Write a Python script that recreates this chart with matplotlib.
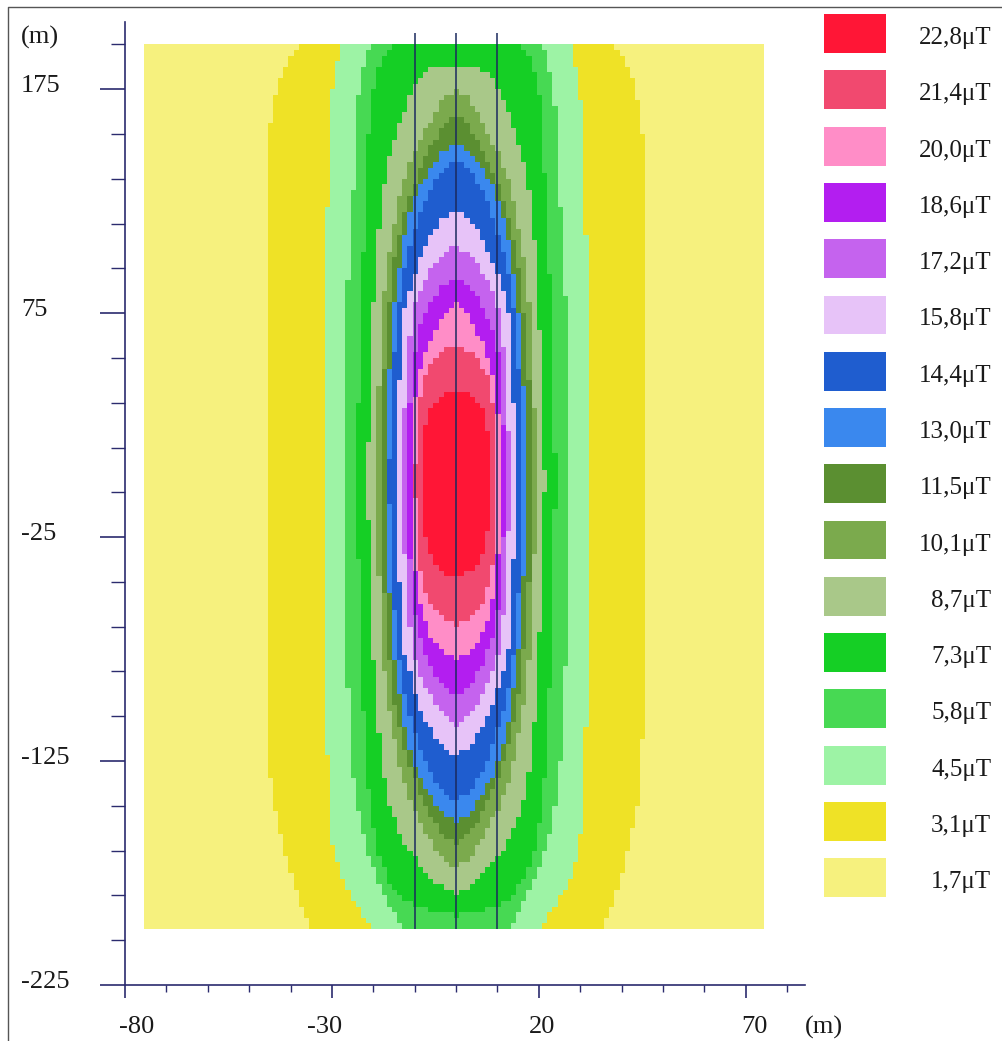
import numpy as np
import matplotlib
matplotlib.use("Agg")
import matplotlib.pyplot as plt
from matplotlib.colors import ListedColormap
from matplotlib.path import Path
from matplotlib.lines import Line2D
from matplotlib.transforms import blended_transform_factory, ScaledTranslation

plt.rcParams['font.family'] = ['Liberation Serif', 'DejaVu Serif']

# ---------------- data ----------------
levels = [1.7, 3.1, 4.5, 5.8, 7.3, 8.7, 10.1, 11.5, 13.0, 14.4, 15.8, 17.2, 18.6, 20.0, 21.4, 22.8]
level_labels = ["1,7μT", "3,1μT", "4,5μT", "5,8μT", "7,3μT", "8,7μT", "10,1μT", "11,5μT",
                "13,0μT", "14,4μT", "15,8μT", "17,2μT", "18,6μT", "20,0μT", "21,4μT", "22,8μT"]
level_colors = ["#F6F17E", "#EFE226", "#9DF3A5", "#47D953", "#15CF25", "#A9C889", "#7BAA4D",
                "#5B8F31", "#3A88EE", "#1F5DCF", "#E7C3F8", "#C563EE", "#B31EF0", "#FF8DC7",
                "#F1496F", "#FF1636"]

# computed region extent (m)
region_x = [-75.5, 74.5]
region_y = [-200, 195]

# iso-level boundaries: (y, half-width) in metres, top to bottom
edge_3_1 = [(195, 37.5), (190, 40.0), (180, 42.5), (170, 44.0), (155, 45.2), (130, 45.5), (75, 45.5),
            (0, 45.5), (-75, 45.5), (-130, 45.0), (-145, 44.0), (-160, 42.0), (-175, 40.0),
            (-190, 37.5), (-200, 35.0)]
edge_4_5 = [(195, 27.5), (185, 29.0), (175, 30.0), (160, 30.5), (130, 31.0), (75, 32.0), (0, 32.0),
            (-75, 32.0), (-130, 31.0), (-150, 30.5), (-165, 29.7), (-180, 27.0), (-190, 24.0),
            (-200, 20.0)]
edge_5_8 = [(195, 20.8), (185, 22.5), (175, 23.5), (160, 24.2), (130, 24.9), (75, 26.6), (0, 26.6),
            (-75, 26.6), (-130, 25.0), (-150, 23.5), (-165, 21.5), (-180, 18.5), (-190, 16.0),
            (-200, 13.0)]
edge_7_3 = [(195, 15.2), (190, 17.5), (180, 19.5), (165, 21.0), (130, 21.5), (75, 23.2), (0, 24.0),
            (-75, 23.2), (-130, 21.5), (-150, 20.5), (-165, 19.0), (-178, 16.5), (-186, 13.0),
            (-191, 8.0), (-194, 0.0)]
edge_8_7 = [(186, 0.0), (185, 5.0), (182, 8.0), (175, 10.5), (160, 13.5), (145, 16.0), (130, 17.6),
            (100, 19.3), (75, 20.0), (0, 21.5), (-75, 20.0), (-100, 19.3), (-130, 17.6),
            (-145, 16.0), (-160, 13.0), (-165, 11.0), (-172, 8.5), (-178, 5.5), (-182, 2.5),
            (-184, 0.0)]
edge_10_1 = [(174, 0.0), (171, 3.0), (165, 5.0), (160, 6.5), (145, 10.5), (130, 13.5), (100, 16.5),
             (75, 17.9), (0, 19.6), (-75, 17.9), (-100, 16.5), (-130, 13.5), (-145, 10.5),
             (-160, 6.5), (-168, 3.5), (-173, 0.0)]
edge_11_5 = [(163, 0.0), (160, 2.5), (150, 6.0), (140, 8.5), (130, 10.6), (115, 13.0), (100, 14.8),
             (75, 16.4), (40, 17.8), (0, 18.4), (-40, 17.8), (-75, 16.4), (-100, 14.8),
             (-115, 13.0), (-130, 10.6), (-140, 8.5), (-150, 6.0), (-158, 3.0), (-163, 0.0)]
edge_13_0 = [(151, 0.0), (148, 3.0), (140, 6.0), (130, 9.4), (115, 11.8), (100, 13.3), (75, 15.2),
             (40, 16.5), (0, 17.2), (-40, 16.5), (-75, 15.2), (-100, 13.3), (-115, 11.8),
             (-130, 9.4), (-140, 6.5), (-148, 3.5), (-152, 0.0)]
edge_14_4 = [(143, 0.0), (140, 3.0), (130, 6.3), (115, 9.5), (100, 11.8), (75, 14.2), (40, 15.5),
             (0, 16.3), (-40, 15.5), (-75, 14.2), (-100, 11.8), (-115, 9.5), (-130, 6.5),
             (-138, 3.5), (-143, 0.0)]
edge_15_8 = [(121, 0.0), (118, 3.0), (110, 6.0), (100, 8.5), (90, 10.5), (75, 12.8), (40, 13.8),
             (0, 14.3), (-40, 13.8), (-75, 12.8), (-90, 10.5), (-100, 9.0), (-110, 6.5),
             (-118, 3.5), (-123, 0.0)]
edge_17_2 = [(105, 0.0), (102, 3.0), (95, 6.0), (85, 8.8), (75, 10.6), (50, 12.0), (0, 13.1),
             (-50, 12.0), (-75, 10.6), (-85, 9.0), (-95, 6.5), (-104, 3.5), (-110, 0.0)]
edge_18_6 = [(91, 0.0), (88, 3.0), (80, 6.0), (70, 8.5), (55, 10.3), (30, 11.3), (0, 11.8),
             (-30, 11.3), (-55, 10.3), (-70, 8.8), (-82, 6.5), (-91, 3.5), (-96, 0.0)]
edge_20_0 = [(79, 0.0), (76, 2.5), (68, 4.6), (60, 7.0), (45, 9.5), (25, 10.4), (0, 10.8),
             (-25, 10.4), (-45, 9.7), (-60, 8.0), (-70, 6.0), (-76, 3.5), (-79, 0.0)]
edge_21_4 = [(61, 0.0), (58, 3.5), (52, 6.0), (45, 8.0), (30, 9.5), (0, 10.0), (-30, 9.5),
             (-45, 8.2), (-55, 6.3), (-61, 3.8), (-64, 0.0)]
edge_22_8 = [(41, 0.0), (39, 3.5), (35, 5.5), (30, 6.8), (20, 8.0), (0, 8.5), (-20, 8.0),
             (-30, 6.8), (-37, 5.0), (-41, 3.0), (-43, 0.0)]

edges = [edge_3_1, edge_4_5, edge_5_8, edge_7_3, edge_8_7, edge_10_1, edge_11_5, edge_13_0,
         edge_14_4, edge_15_8, edge_17_2, edge_18_6, edge_20_0, edge_21_4, edge_22_8]

conductor_x = [-10, 0, 10]
conductor_y = [-200, 200]

x_major = [-80, -30, 20, 70]
y_major = [-225, -125, -25, 75, 175]

# ---------------- figure ----------------
W, H = 1002, 1041
DPI = 100
fig = plt.figure(figsize=(W / DPI, H / DPI), dpi=DPI)
ax = fig.add_axes([125 / W, 1 - 985 / H, (805 - 125) / W, (985 - 22) / H])
ax.set_xlim(-80, 84.3)
ax.set_ylim(-225, 205)

# raster of level indices (cell grid like the source program)
dx, dy = 1.25, 2.5
xe = np.arange(region_x[0], region_x[1] + 1e-6, dx)
ye = np.arange(region_y[0], region_y[1] + 1e-6, dy)
xc = 0.5 * (xe[:-1] + xe[1:])
yc = 0.5 * (ye[:-1] + ye[1:])
X, Y = np.meshgrid(xc, yc)
pts = np.column_stack([np.abs(X).ravel(), Y.ravel()])
idx = np.zeros(X.size, dtype=int)
for e in edges:
    verts = [(0.0, e[0][0])] + [(hw, y) for y, hw in e] + [(0.0, e[-1][0])]
    idx += Path(verts, closed=False).contains_points(pts).astype(int)
idx = idx.reshape(X.shape)

cmap = ListedColormap(level_colors)
ax.pcolormesh(xe, ye, idx, cmap=cmap, vmin=-0.5, vmax=len(levels) - 0.5,
              shading='flat', antialiased=False, zorder=1)

ax.vlines(conductor_x, conductor_y[0], conductor_y[1], colors='#1B2A5E', linewidth=1.1, zorder=3)

# axes styling
axis_col = '#2B2B6E'
txt_col = '#1A1A1A'
for s in ['top', 'right']:
    ax.spines[s].set_visible(False)
for s in ['left', 'bottom']:
    ax.spines[s].set_color(axis_col)
    ax.spines[s].set_linewidth(1.2)

ax.set_xticks(x_major)
ax.set_xticks(np.arange(-70, 81, 10), minor=True)
ax.set_yticks(y_major)
ax.set_yticks(np.arange(-205, 200, 20), minor=True)
ax.tick_params(axis='x', which='major', direction='out', length=9, width=1.2, color=axis_col,
               pad=13, labelsize=19, labelcolor=txt_col)
ax.tick_params(axis='x', which='minor', direction='out', length=5, width=1.0, color=axis_col)
ax.tick_params(axis='y', which='major', direction='out', length=18, width=1.2, color=axis_col,
               labelleft=False)
ax.tick_params(axis='y', which='minor', direction='out', length=10, width=1.0, color=axis_col)
ax.set_xticklabels([str(v) for v in x_major])
x_label_shift_px = [12, -7, 3, 9]
for lab, sh in zip(ax.get_xticklabels(), x_label_shift_px):
    lab.set_transform(lab.get_transform() + ScaledTranslation(sh / DPI, 0, fig.dpi_scale_trans))

ytr = blended_transform_factory(fig.transFigure, ax.transData)
for v in y_major:
    ax.text(21 / W, v + 1.2, str(v), transform=ytr, ha='left', va='center', fontsize=19,
            color=txt_col, clip_on=False)

fig.text(21 / W, 1 - 37 / H, "(m)", ha='left', va='center', fontsize=19, color=txt_col)
fig.text(824 / W, 1 - 1027 / H, "(m)", ha='center', va='center', fontsize=19, color=txt_col)

# legend
lax = fig.add_axes([824 / W, 1 - 905.8 / H, (992 - 824) / W, 900.3 / H])
lax.set_xlim(0, 1)
lax.set_ylim(len(levels) - 0.5, -0.5)
lax.axis('off')
rows = np.arange(len(levels))
lax.barh(rows, 62 / 168, left=0, height=0.69, color=level_colors[::-1])
for r, lab in zip(rows, level_labels[::-1]):
    lax.text(0.995, r + 0.08, lab, ha='right', va='center', fontsize=18, color=txt_col)

# outer frame (left and top edges)
fig.add_artist(Line2D([8 / W, 8 / W, 1.0], [0.0, 1 - 7 / H, 1 - 7 / H], transform=fig.transFigure,
                      color='#555555', linewidth=1.0))

fig.savefig("out.png", dpi=DPI)
